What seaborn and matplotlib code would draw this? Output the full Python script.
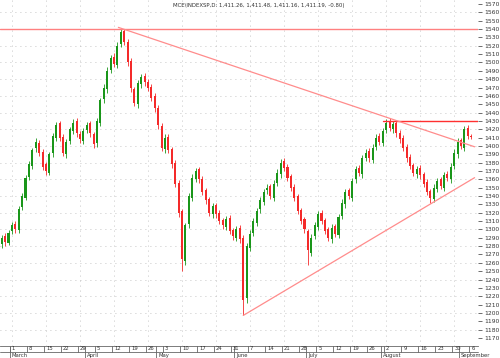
import numpy as np
import pandas as pd
import matplotlib
matplotlib.use('Agg')
import matplotlib.pyplot as plt
import seaborn as sns

# Dados do gráfico
titulo = 'MCE\\INDEXSP,D: 1,411.26, 1,411.48, 1,411.16, 1,411.19, -0.80)'
inicio = '2007-02-26'

fechamento = [1290, 1285, 1296, 1305, 1300, 1325, 1340, 1362, 1378,
              1395, 1405, 1392, 1375, 1370, 1390, 1412, 1425, 1410, 1392, 1405, 1420, 1428, 1415, 1408, 1418, 1425, 1415, 1402,
              1430, 1455, 1470, 1490, 1505, 1498, 1520, 1536,
              1525, 1500, 1470, 1452, 1475, 1482, 1476, 1470, 1458, 1445, 1425, 1398, 1410, 1395, 1378, 1355, 1320,
              1265,
              1305, 1340, 1362, 1370, 1360, 1345, 1335, 1320, 1328, 1318, 1310, 1305, 1312, 1298, 1292, 1300, 1288,
              1215,
              1280, 1295, 1310, 1322, 1335, 1345, 1350, 1340, 1355, 1368, 1380, 1374, 1362, 1350, 1338, 1322, 1310, 1300,
              1275,
              1290, 1305, 1318, 1310, 1298, 1290, 1302, 1295, 1315, 1332, 1345, 1340, 1358, 1372, 1368, 1385, 1392, 1385, 1398, 1410, 1405, 1418,
              1428,
              1422, 1426, 1415, 1408, 1398, 1385, 1376, 1368, 1372, 1365, 1355, 1345, 1338, 1350, 1358, 1352, 1365, 1362, 1375, 1392, 1405, 1400, 1420, 1412, 1411.19]

abertura = [1282, 1292, 1284, 1298, 1307, 1299, 1327, 1338, 1363,
            1376, 1397, 1404, 1393, 1378, 1368, 1391, 1410, 1427, 1411, 1390, 1406, 1418, 1430, 1414, 1406, 1419, 1427, 1414,
            1403, 1428, 1456, 1468, 1491, 1507, 1497, 1522,
            1538, 1524, 1502, 1468, 1450, 1474, 1484, 1477, 1471, 1460, 1446, 1424, 1396, 1411, 1396, 1380, 1356,
            1322,
            1262, 1306, 1338, 1361, 1372, 1361, 1347, 1336, 1318, 1329, 1320, 1311, 1303, 1314, 1299, 1290, 1302,
            1290,
            1218, 1278, 1296, 1308, 1324, 1333, 1347, 1352, 1338, 1356, 1366, 1382, 1375, 1364, 1351, 1340, 1323, 1312,
            1298,
            1272, 1292, 1303, 1320, 1311, 1300, 1288, 1304, 1293, 1316, 1330, 1347, 1338, 1360, 1374, 1366, 1386, 1394, 1383, 1399, 1412, 1404,
            1419,
            1430, 1420, 1427, 1416, 1410, 1399, 1387, 1377, 1366, 1374, 1366, 1357, 1346, 1336, 1349, 1360, 1350, 1367, 1360, 1376, 1390, 1407, 1398, 1422, 1411.26]

maxima = [1293, 1296, 1299, 1309, 1310, 1328, 1344, 1365, 1382,
          1398, 1409, 1407, 1396, 1381, 1393, 1415, 1429, 1430, 1414, 1408, 1423, 1432, 1433, 1418, 1421, 1429, 1430, 1417,
          1433, 1458, 1474, 1494, 1509, 1511, 1524, 1541,
          1540, 1528, 1505, 1471, 1479, 1486, 1487, 1480, 1474, 1463, 1449, 1428, 1414, 1414, 1399, 1383, 1359,
          1325,
          1308, 1344, 1366, 1374, 1375, 1364, 1350, 1339, 1332, 1332, 1323, 1314, 1316, 1317, 1302, 1304, 1305,
          1293,
          1284, 1299, 1314, 1326, 1339, 1349, 1354, 1355, 1359, 1372, 1384, 1386, 1378, 1367, 1354, 1343, 1326, 1315,
          1301,
          1294, 1309, 1322, 1323, 1314, 1303, 1306, 1307, 1319, 1336, 1349, 1350, 1362, 1376, 1377, 1389, 1396, 1397, 1402, 1414, 1415, 1422,
          1432,
          1433, 1430, 1430, 1419, 1413, 1402, 1390, 1380, 1376, 1377, 1369, 1360, 1349, 1354, 1362, 1363, 1369, 1370, 1379, 1396, 1409, 1410, 1424, 1425, 1414]

minima = [1278, 1280, 1281, 1294, 1296, 1296, 1323, 1335, 1359,
          1372, 1393, 1388, 1371, 1365, 1365, 1387, 1406, 1406, 1388, 1386, 1402, 1414, 1411, 1404, 1402, 1415, 1411, 1398,
          1399, 1424, 1452, 1464, 1487, 1494, 1493, 1518,
          1521, 1496, 1465, 1448, 1446, 1470, 1472, 1466, 1454, 1441, 1420, 1394, 1392, 1391, 1374, 1351, 1315,
          1250,
          1258, 1302, 1334, 1357, 1356, 1341, 1331, 1316, 1314, 1314, 1306, 1300, 1299, 1294, 1287, 1286, 1284,
          1197,
          1212, 1274, 1292, 1304, 1320, 1329, 1343, 1336, 1334, 1352, 1362, 1370, 1358, 1346, 1334, 1318, 1306, 1296,
          1258,
          1268, 1288, 1299, 1306, 1294, 1286, 1284, 1291, 1290, 1312, 1326, 1336, 1334, 1356, 1364, 1362, 1382, 1381, 1379, 1395, 1401, 1400,
          1415,
          1418, 1416, 1411, 1404, 1394, 1381, 1372, 1364, 1362, 1361, 1351, 1341, 1332, 1333, 1345, 1348, 1346, 1358, 1356, 1372, 1386, 1396, 1394, 1408, 1408]

# linhas desenhadas no gráfico: (índices, valores)
tendencia_topo = ([34.3, 139], [1542, 1399])
tendencia_fundo = ([71, 139], [1197, 1362])
nivel_topo = 1540
nivel_agosto = ([112, 140], [1430, 1430])
meses = ['March', 'April', 'May', 'June', 'July', 'August', 'September']

sns.set_style('white')
plt.rcParams['font.family'] = ['DejaVu Sans']

fig = plt.figure(figsize=(5, 3.58), dpi=100)
ax = fig.add_axes([0, 12 / 358, 478 / 500, 346 / 358])

df = pd.DataFrame({'data': pd.bdate_range(inicio, periods=len(fechamento)),
                   'o': abertura, 'h': maxima, 'l': minima, 'c': fechamento})
x = np.arange(len(df))
cor = np.where(df.c >= df.o, '#1a961a', '#f42a2a')

# grade pontilhada
for nivel in range(1180, 1571, 20):
    ax.axhline(nivel, color='#b4b4b4', lw=0.6, ls=(0, (1, 5)), zorder=0)
quintas = df.index[df.data.dt.dayofweek == 3]
for i in quintas[::2]:
    ax.axvline(i, color='#b4b4b4', lw=0.6, ls=(0, (1, 5)), zorder=0)

# candles
ax.vlines(x, df.l, df.h, colors=cor, lw=0.6, zorder=2)
corpo = (df.c - df.o).abs().clip(lower=1.2)
ax.bar(x, corpo, bottom=np.minimum(df.o, df.c), width=0.6, color=cor, lw=0, zorder=3)

# linhas de tendência
ax.axhline(nivel_topo, color='#ff8080', lw=1, zorder=4)
sns.lineplot(x=nivel_agosto[0], y=nivel_agosto[1], ax=ax, color='#ff3030', lw=1, zorder=4)
sns.lineplot(x=tendencia_topo[0], y=tendencia_topo[1], ax=ax, color='#ff8c8c', lw=0.9, zorder=4)
sns.lineplot(x=tendencia_fundo[0], y=tendencia_fundo[1], ax=ax, color='#ff8c8c', lw=0.9, zorder=4)

ax.set_xlim(-0.5, 140)
ax.set_ylim(1160.4, 1574.8)
ax.set_xlabel('')
ax.set_ylabel('')
for lado in ['top', 'left', 'right']:
    ax.spines[lado].set_visible(False)
ax.spines['bottom'].set_color('#666666')
ax.spines['bottom'].set_linewidth(0.6)

# eixo y à direita
ax.yaxis.tick_right()
ax.set_yticks(range(1170, 1571, 10))
ax.tick_params(axis='y', labelsize=4.3, length=3, width=0.6, color='#555555',
               labelcolor='#333333', pad=1.5)

# eixo x manual: dias (quintas) e meses
ax.set_xticks([])
trans = ax.get_xaxis_transform()
px = 1 / 346
ax.plot([-0.5, 140], [-6 * px, -6 * px], transform=trans, color='#666666', lw=0.6, clip_on=False)
for i in quintas:
    ax.plot([i - 0.6, i - 0.6], [0, -6 * px], transform=trans, color='#666666', lw=0.6, clip_on=False)
    ax.text(i, -3 * px, str(df.data[i].day), transform=trans, fontsize=3.8, color='#333333',
            ha='left', va='center')
inicio_mes = df.index[df.data.dt.month != df.data.dt.month.shift()][1:]
for i, nome in zip(inicio_mes, meses):
    ax.plot([i - 0.6, i - 0.6], [0, -12 * px], transform=trans, color='#666666', lw=0.6, clip_on=False)
    ax.text(i, -9.5 * px, nome, transform=trans, fontsize=3.8, color='#333333',
            ha='left', va='center')

fig.text(173 / 500, 1 - 5 / 358, titulo, fontsize=3.9, color='#333333', ha='left', va='center')

fig.savefig('out.png', dpi=100, facecolor='white')
